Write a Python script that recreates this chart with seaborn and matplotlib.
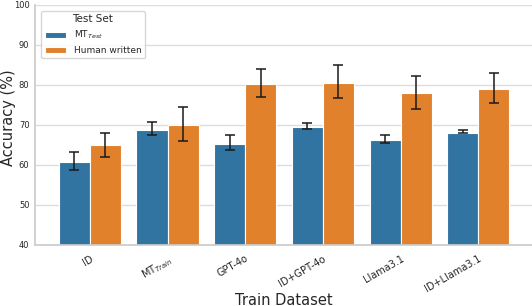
import numpy as np
import pandas as pd
import matplotlib
matplotlib.use("Agg")
import matplotlib.pyplot as plt
import seaborn as sns

train_sets = ["ID", "MT$_{Train}$", "GPT-4o", "ID+GPT-4o", "Llama3.1", "ID+Llama3.1"]
test_sets = ["MT$_{Test}$", "Human written"]
mt_test_acc = [60.8, 68.8, 65.3, 69.5, 66.3, 68.0]
mt_test_lo = [58.7, 67.4, 63.7, 68.9, 65.4, 67.9]
mt_test_hi = [63.2, 70.7, 67.4, 70.4, 67.4, 68.7]
human_acc = [65.0, 70.0, 80.2, 80.5, 78.0, 79.0]
human_lo = [61.9, 65.9, 77.0, 76.7, 73.9, 75.4]
human_hi = [67.9, 74.5, 84.0, 84.9, 82.2, 82.9]

df = pd.DataFrame({
    "Train Dataset": train_sets * 2,
    "Test Set": [test_sets[0]] * len(train_sets) + [test_sets[1]] * len(train_sets),
    "Accuracy (%)": mt_test_acc + human_acc,
})

sns.set_theme(style="whitegrid")
plt.rcParams['font.family'] = ['DejaVu Sans']

fig = plt.figure(figsize=(5.32, 3.06), dpi=100)
ax = fig.add_axes([35/532, 61/306, 1 - 35/532, 240/306])

sns.barplot(data=df, x="Train Dataset", y="Accuracy (%)", hue="Test Set",
            hue_order=test_sets, palette="tab10", errorbar=None, ax=ax,
            edgecolor="white", linewidth=0.8)

los = mt_test_lo + human_lo
his = mt_test_hi + human_hi
means = mt_test_acc + human_acc
patches = [p for p in ax.patches if p.get_height() > 0][:len(means)]
for p, m, lo, hi in zip(patches, means, los, his):
    cx = p.get_x() + p.get_width() / 2
    ax.errorbar(cx, m, yerr=[[m - lo], [hi - m]], fmt="none", ecolor="#1a1a1a",
                elinewidth=1.1, capsize=3.5, capthick=1.1)

ax.set_ylim(40, 100)
ax.set_xlim(-0.705, 5.69)
ax.set_yticks([40, 50, 60, 70, 80, 90, 100])
ax.tick_params(axis="y", labelsize=6, length=0, pad=4)
ax.tick_params(axis="x", labelsize=7, pad=0)
for lab in ax.get_xticklabels():
    lab.set_rotation(30)
    lab.set_ha("right")
    lab.set_rotation_mode("anchor")
ax.set_xlabel("Train Dataset", fontsize=10.5)
ax.xaxis.set_label_coords(0.5, -0.198)
ax.xaxis.label.set_va("top")
ax.set_ylabel("Accuracy (%)", fontsize=10.5)
ax.yaxis.set_label_coords(-0.038, 0.53)
sns.despine(ax=ax)
for s in ["left", "bottom"]:
    ax.spines[s].set_color("#cccccc")
ax.grid(axis="x", visible=False)
ax.grid(axis="y", color="#dddddd", linewidth=1.0)

leg = ax.legend(title="Test Set", loc="upper left", fontsize=6.5, title_fontsize=7.5,
                frameon=True, bbox_to_anchor=(0.003, 0.995), handlelength=2.4,
                borderpad=0.4, labelspacing=0.5)

fig.savefig("out.png", dpi=100)
